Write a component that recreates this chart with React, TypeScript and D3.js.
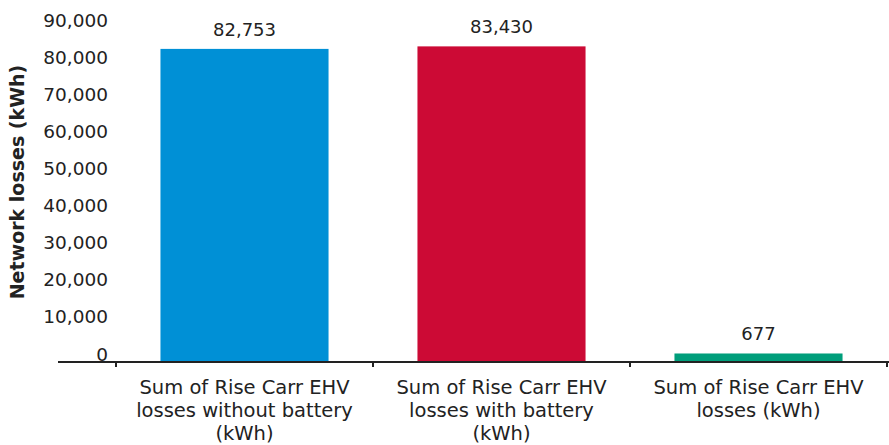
import React from "react";
import * as d3 from "d3";

// values
const categories = [
  ["Sum of Rise Carr EHV", "losses without battery", "(kWh)"],
  ["Sum of Rise Carr EHV", "losses with battery", "(kWh)"],
  ["Sum of Rise Carr EHV", "losses (kWh)"],
];
const losses = [82753, 83430, 677];
const barColors = ["#0090d6", "#cc0a35", "#009e7b"];
const yTicks = [0, 10000, 20000, 30000, 40000, 50000, 60000, 70000, 80000, 90000];

const W = 889;
const H = 445;
const font = "'DejaVu Sans', Verdana, sans-serif";

const App = () => {
  const keys = categories.map((_, i) => String(i));

  const x = d3.scaleBand<string>().domain(keys).range([116, 887]).paddingInner(0.346).paddingOuter(0.173);
  const y = d3.scaleLinear().domain([0, 90000]).range([356, 22]);
  const axisY = 362;
  const fmt = d3.format(",");

  // band boundaries for the tick marks
  const step = x.step();
  const bounds = d3.range(categories.length + 1).map((i) => 116 + i * step);

  return (
    <svg width={W} height={H} style={{ position: "absolute", left: 0, top: 0 }}>
      <rect width={W} height={H} fill="#fff" />

      {yTicks.map((t) => (
        <text
          key={t}
          x={108}
          y={y(t) - 2}
          textAnchor="end"
          dominantBaseline="central"
          fontFamily={font}
          fontSize={18.5}
          fill="#222"
        >
          {fmt(t)}
        </text>
      ))}

      <text
        transform={`translate(17, 182) rotate(-90)`}
        textAnchor="middle"
        dominantBaseline="central"
        fontFamily={font}
        fontSize={19}
        fontWeight="bold"
        fill="#222"
      >
        Network losses (kWh)
      </text>

      {losses.map((v, i) => (
        <g key={i}>
          <rect
            x={x(keys[i])}
            y={Math.min(y(v), axisY - 6)}
            width={x.bandwidth()}
            height={axisY - Math.min(y(v), axisY - 6)}
            fill={barColors[i]}
          />
          <text
            x={(x(keys[i]) as number) + x.bandwidth() / 2}
            y={Math.min(y(v), axisY - 6) - 13}
            textAnchor="middle"
            fontFamily={font}
            fontSize={18}
            fill="#222"
          >
            {fmt(v)}
          </text>
        </g>
      ))}

      <line x1={58} x2={W} y1={axisY} y2={axisY} stroke="#222" strokeWidth={2} />
      {bounds.map((b, i) => (
        <line key={i} x1={b} x2={b} y1={axisY} y2={axisY + 5} stroke="#222" strokeWidth={2} />
      ))}

      {categories.map((lines, i) => (
        <text
          key={i}
          x={(x(keys[i]) as number) + x.bandwidth() / 2}
          textAnchor="middle"
          fontFamily={font}
          fontSize={19.5}
          fill="#222"
        >
          {lines.map((l, j) => (
            <tspan key={j} x={(x(keys[i]) as number) + x.bandwidth() / 2} y={394 + j * 23}>
              {l}
            </tspan>
          ))}
        </text>
      ))}
    </svg>
  );
};

export default App;
